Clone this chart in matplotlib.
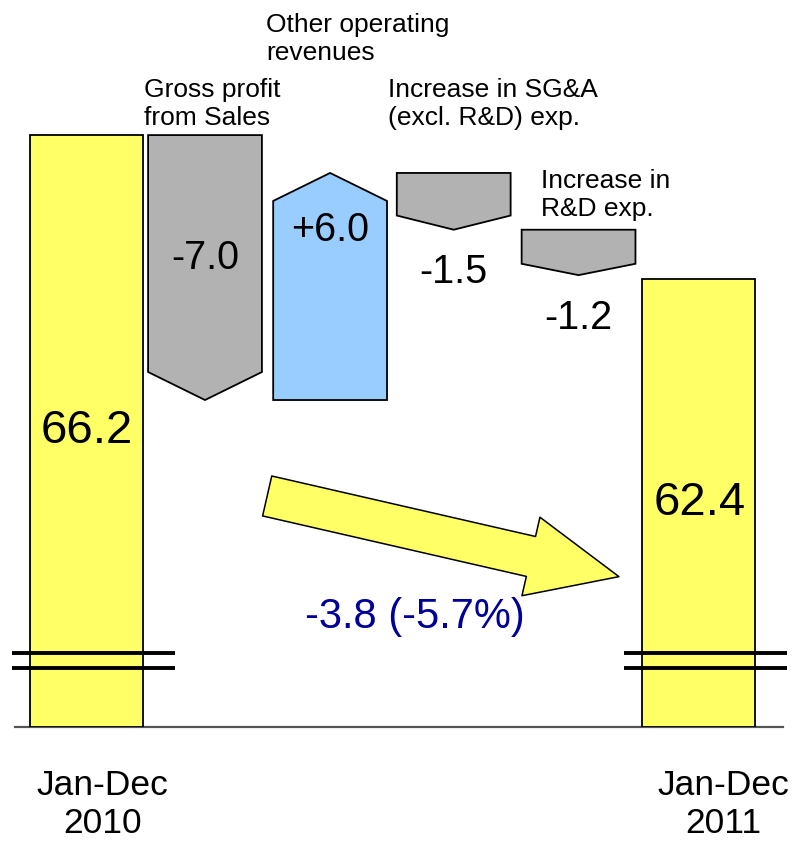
import matplotlib
matplotlib.use("Agg")
import matplotlib.pyplot as plt
from matplotlib.patches import Polygon

plt.rcParams["font.family"] = ["Liberation Sans", "DejaVu Sans"]

# data
totals_labels = ["Jan-Dec\n2010", "Jan-Dec\n2011"]
total_start = 66.2
total_end = 62.4
step_labels = [
    "Gross profit\nfrom Sales",
    "Other operating\nrevenues",
    "Increase in SG&A\n(excl. R&D) exp.",
    "Increase in\nR&D exp.",
]
step_values = [-7.0, 6.0, -1.5, -1.2]

YELLOW = "#ffff66"
GREY = "#b2b2b2"
BLUE = "#99ccff"
NAVY = "#000099"

y_floor = 50.56
bar_w = 0.93
half = bar_w / 2
step_x = [0.968, 1.99, 3.0, 4.02]

fig = plt.figure(figsize=(7.98, 8.44), dpi=100)
ax = fig.add_axes([0, 117 / 844, 1, 727 / 844])
ax.set_xlim(-0.707, 5.813)
ax.set_ylim(y_floor, 69.77)
ax.axis("off")

# start / end totals
pos_tot = [0, 5]
vals_tot = [total_start, total_end]
ax.bar(pos_tot, [v - y_floor for v in vals_tot], bottom=y_floor, width=bar_w,
       color=YELLOW, edgecolor="black", linewidth=1.3, zorder=2)
for p, v, off in zip(pos_tot, vals_tot, [0.0, 0.01]):
    ax.text(p + off, (v + y_floor) / 2, f"{v:.1f}", ha="center", va="center",
            fontsize=34, zorder=4)

# axis break marks
for p in pos_tot:
    for yb in (52.52, 52.12):
        ax.plot([p - 0.61, p + 0.72], [yb, yb], color="black", lw=2.8,
                solid_capstyle="butt", zorder=3)

# baseline
ax.plot([-0.584, 5.69], [y_floor, y_floor], color="#555555", lw=1.6,
        clip_on=False, zorder=1)

# waterfall steps drawn as pointed blocks
label_pos = [(-0.03, 1.5), (-0.057, 4.23), (-0.074, 2.51), (0.155, 1.61)]
cum = total_start
for x, d, lab, lp in zip(step_x, step_values, step_labels, label_pos):
    start, end = cum, cum + d
    depth = min(0.74, 0.25 * abs(d))
    shoulder = end + depth if d < 0 else end - depth
    pts = [(x - half, start), (x + half, start), (x + half, shoulder),
           (x, end), (x - half, shoulder)]
    color = GREY if d < 0 else BLUE
    top = max(start, end)
    ax.add_patch(Polygon(pts, closed=True, facecolor=color, edgecolor="black",
                         linewidth=1.3, zorder=2))
    # value label
    if abs(d) >= 3:
        ty = start - 3.25 if d < 0 else end - 1.51
    else:
        ty = end - 1.13
    ax.text(x, ty, f"{d:+.1f}" if d > 0 else f"{d:.1f}", ha="center",
            va="center", fontsize=28.5, zorder=4)
    # category label above
    ax.text(x - half + lp[0], top + lp[1], lab, ha="left", va="top",
            fontsize=19, linespacing=1.2, zorder=4)
    cum = end

# big trend arrow
ax.annotate("", xy=(4.35, 54.533), xytext=(1.476, 56.665),
            arrowprops=dict(arrowstyle="simple,head_length=65,head_width=58,tail_width=29.5",
                            mutation_scale=1, shrinkA=0, shrinkB=0,
                            facecolor=YELLOW, edgecolor="black", lw=1.1),
            zorder=3)

diff = total_end - total_start
pct = diff / total_start * 100
ax.text(2.68, 53.47, f"{diff:.1f} ({pct:.1f}%)", ha="center", va="center",
        fontsize=30, color=NAVY, zorder=4)

# x labels
for p, lab, off in zip(pos_tot, totals_labels, [0.127, 0.2]):
    ax.text(p + off, y_floor - 1.1, lab, ha="center", va="top",
            fontsize=25.5, linespacing=1.2)

fig.savefig("out.png", dpi=100)
